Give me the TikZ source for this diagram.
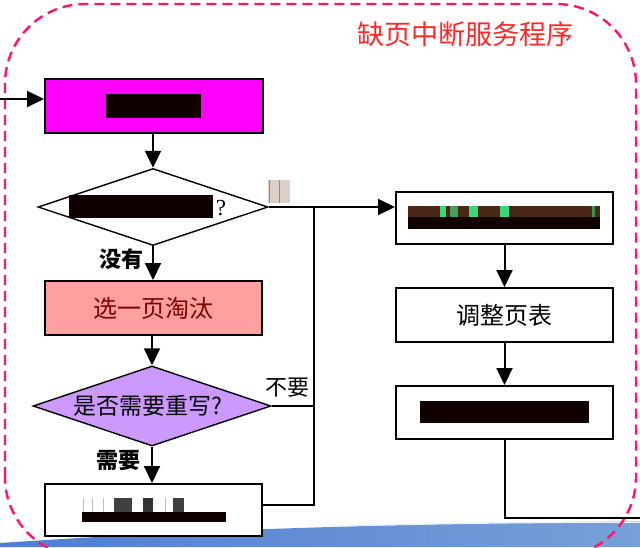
\documentclass[tikz,border=0pt]{standalone}
\usepackage{fontspec}
\setmainfont{Liberation Serif}
\newfontfamily\cjk{Noto Sans CJK SC}
\usetikzlibrary{shapes.geometric,arrows.meta}
\definecolor{magc}{RGB}{255,0,255}
\definecolor{pinkc}{RGB}{255,160,160}
\definecolor{lavc}{RGB}{204,153,255}
\definecolor{darkredc}{RGB}{128,0,0}
\definecolor{titlec}{RGB}{255,40,40}
\definecolor{dashc}{RGB}{255,20,110}
\definecolor{barc}{RGB}{16,0,0}
\definecolor{brownc}{RGB}{75,40,22}
\definecolor{greenc}{RGB}{60,215,120}
\definecolor{taglc}{RGB}{220,207,202}
\definecolor{blueA}{RGB}{80,125,210}
\definecolor{blueB}{RGB}{140,175,222}
\definecolor{blueC}{RGB}{120,160,215}
\tikzset{
  box/.style={draw, line width=2pt, minimum width=217pt, minimum height=53pt, inner sep=0pt, fill=white, font=\cjk\fontsize{24}{28}\selectfont},
  dia/.style={draw, shape=diamond, line width=1.4pt, inner sep=0pt},
  conn/.style={line width=2pt},
  arr/.style={line width=2pt, -{Triangle[length=17pt,width=16pt]}},
  lab/.style={font=\cjk\fontsize{22}{26}\selectfont, inner sep=0pt},
  blab/.style={font=\cjk\bfseries\fontsize{22}{26}\selectfont, inner sep=0pt},
}
\begin{document}
\begin{tikzpicture}[x=1pt,y=-1pt]
\useasboundingbox (0,0) rectangle (640,547);
% background swoosh
\shade[left color=blueA, middle color=blueB, right color=blueC]
  (0,547) -- (0,543) .. controls (150,533) and (300,525) .. (640,521) -- (640,547) -- cycle;
\draw[white!85!blueB, line width=1.5pt] (330,526) .. controls (450,523) and (550,522) .. (640,522);
% dashed frame
\draw[dashc, line width=2.4pt, dash pattern=on 10pt off 6pt, rounded corners=80pt]
  (5,557) -- (5,4) -- (636,4) -- (636,557) -- cycle;
% title
\node[font=\cjk\fontsize{27}{30}\selectfont, text=titlec, inner sep=0pt] (title) at (465,34) {缺页中断服务程序};

% nodes
\node[box, fill=magc, minimum width=218pt, minimum height=54pt] (m) at (154,106) {};
\node[dia, minimum width=230pt, minimum height=77pt, fill=white] (d1) at (153,207) {};
\node[box, fill=pinkc, text=darkredc, minimum height=54pt] (p) at (153.5,308) {选一页淘汰};
\node[dia, minimum width=238pt, minimum height=80pt, fill=lavc] (d2) at (152,406) {};
\node[lab, font=\cjk\fontsize{23}{26}\selectfont] (d2t) at (148,406) {是否需要重写?};
\node[box, minimum height=52pt] (b) at (153.5,510) {};
\node[box, minimum height=52pt] (r1) at (504.5,218) {};
\node[box, minimum height=54pt] (r2) at (504.5,315) {调整页表};
\node[box, minimum height=53pt] (r3) at (504.5,412.5) {};

% labels
\node[blab] (l1) at (121,259) {没有};
\node[blab] (l2) at (118,460) {需要};
\node[lab] (l3) at (287,388) {不要};
\node[font=\fontsize{23}{26}\selectfont, inner sep=0pt] (q1) at (221,208) {?};

% redacted bars
\fill[barc] (106,94) rectangle (201,118);
\fill[barc] (69,195) rectangle (213,218);
\fill[taglc] (268,180) rectangle (290,203);
\draw[black!45, line width=0.8pt] (269,180) -- (269,203) (279,180) -- (279,203);
\fill[brownc] (408,206) rectangle (600,217);
\fill[greenc] (440,206) rectangle (446,217);
\fill[greenc!70!brownc] (450,206) rectangle (458,217);
\fill[greenc] (469,206) rectangle (478,217);
\fill[greenc] (500,206) rectangle (509,217);
\fill[greenc!60!brownc] (592,206) rectangle (595,217);
\fill[barc] (408,217) rectangle (600,229);
\fill[barc] (420,401) rectangle (589,423);
\fill[barc] (82,512) rectangle (226,522);
\fill[black!75] (114,498) rectangle (132,512);
\fill[black!80] (143,498) rectangle (153,512);
\fill[black!75] (173,498) rectangle (184,512);
\draw[black!25, line width=0.6pt] (83,498) -- (83,512) (92,498) -- (92,512) (103,498) -- (103,512) (165,498) -- (165,512);

% connectors
\coordinate (in) at (0,99);
\draw[arr] (in) -- (in -| m.west);
\draw[arr] (m.south -| d1.north) -- (d1.north);
\draw[arr] (d1.south) -- (p.north -| d1.south);
\draw[arr] (p.south -| d2.north) -- (d2.north);
\draw[arr] (d2.south) -- (b.north -| d2.south);
\coordinate (j1) at (314,207);
\coordinate (j3) at (314,505);
\draw[arr] (d1.east) -- (d1.east -| r1.west);
\draw[conn] (d2.east) -- (d2.east -| j1);
\draw[conn] (b.east |- j3) -- (j3) -- (j1);
\draw[arr] (r1.south) -- (r2.north);
\draw[arr] (r2.south) -- (r3.north);
\coordinate (outr) at (640,518);
\draw[conn] (r3.south) -- (r3.south |- outr) -- (outr);
\end{tikzpicture}
\end{document}
